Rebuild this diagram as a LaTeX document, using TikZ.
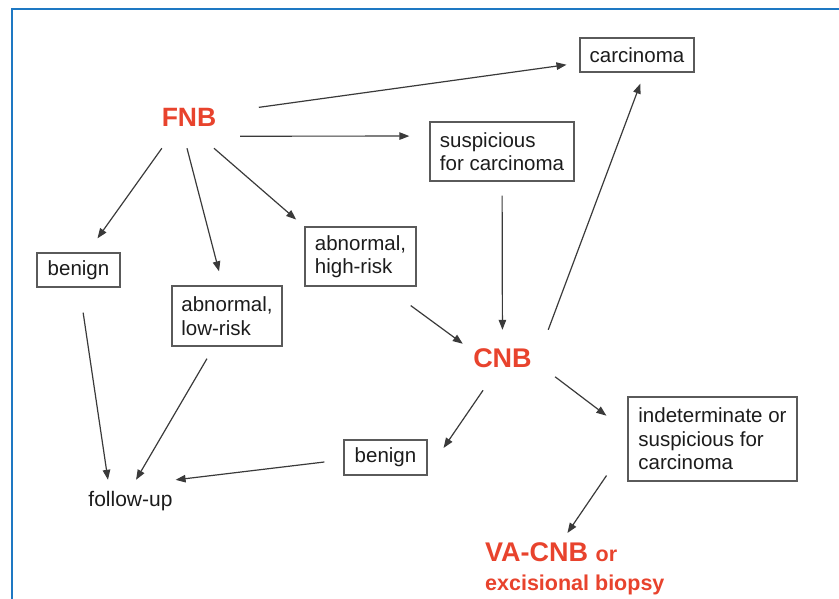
\documentclass[tikz,border=0pt]{standalone}
\usepackage{fontspec}
\setmainfont{Liberation Sans}
\usetikzlibrary{arrows.meta}
\definecolor{fnbred}{HTML}{E8432D}
\definecolor{frameblue}{HTML}{1E78C3}
\definecolor{linegray}{HTML}{3A3A3A}
\definecolor{boxgray}{HTML}{5A5A5A}
\definecolor{txt}{HTML}{1C1C1C}

\tikzset{
  box/.style={draw=boxgray, line width=1.3pt, align=left, inner sep=0pt,
    text=txt, font=\fontsize{20.5}{23.5}\selectfont},
  arr/.style={-{Triangle[length=10pt, width=7.5pt]}, draw=linegray, line width=1.2pt},
  redlbl/.style={text=fnbred, inner sep=0pt, font=\bfseries\fontsize{26.5}{29}\selectfont},
}

\begin{document}
\begin{tikzpicture}[x=1pt, y=-1pt]

\useasboundingbox (0,0) rectangle (839,599);

% Frame
\draw[frameblue, line width=2pt] (11.5,599) -- (11.5,9.5) -- (839,9.5);

% --- Nodes ---
\node[redlbl, minimum width=60pt, minimum height=38pt] (fnb) at (189,117) {FNB};
\node[box, minimum width=114pt, minimum height=34pt] (carc) at (637,55) {carcinoma};
\node[box, minimum width=144pt, minimum height=59pt] (susp) at (502,151.5)
  {suspicious\\for carcinoma};
\node[box, minimum width=83pt, minimum height=34pt] (benA) at (78.5,270) {benign};
\node[box, minimum width=110pt, minimum height=60pt] (lowrisk) at (227,316)
  {abnormal,\\low-risk};
\node[box, minimum width=111pt, minimum height=59pt] (highrisk) at (360.5,256.5)
  {abnormal,\\high-risk};
\node[redlbl, font=\bfseries\fontsize{27}{29}\selectfont,
  minimum width=64pt, minimum height=26pt] (cnb) at (502.5,358.5) {CNB};
\node[box, minimum width=83pt, minimum height=35pt] (benB) at (385.5,457.5) {benign};
\node[box, minimum width=169pt, minimum height=84pt] (indet) at (712.5,439)
  {indeterminate or\\suspicious for\\carcinoma};
\node[text=txt, font=\fontsize{21}{24}\selectfont, inner sep=0pt,
  minimum width=90pt, minimum height=24pt] (follow) at (130.5,501.5) {follow-up};
\node[redlbl, font=\bfseries\fontsize{27}{29}\selectfont, align=left,
  anchor=north west] (vacnb) at (485,542.7)
  {VA-CNB {\fontsize{21.5}{29}\selectfont or}\\{\fontsize{21.5}{29}\selectfont excisional biopsy}};

% --- Arrows from FNB ---
\draw[arr, shorten <=40pt, shorten >=13pt] (fnb) -- (carc);
\draw[arr, shorten <=21pt, shorten >=20pt] (fnb.south east) -- (susp.168);
\draw[arr, shorten <=14.8pt, shorten >=17.2pt] (fnb.-134) -- (benA.63);
\draw[arr, shorten <=12.4pt, shorten >=14.5pt] (fnb.-105) -- (lowrisk.98);
\draw[arr, shorten <=18.4pt, shorten >=10.8pt] (fnb.-60) -- (highrisk.152);

% --- Arrows to and from CNB ---
\draw[arr, shorten <=14pt, shorten >=15.5pt] (susp) -- (cnb);
\draw[arr, shorten <=32pt, shorten >=9.3pt] (highrisk.-51) -- (cnb.164);
\draw[arr, shorten <=38.6pt, shorten >=11.7pt] (cnb.-13) -- (carc.-67);
\draw[arr, shorten <=25.6pt, shorten >=26.3pt] (cnb.-5) -- (indet.175);
\draw[arr, shorten <=22.5pt, shorten >=28.2pt] (cnb.-117) -- (benB.-18);

% --- Arrows to follow-up and biopsy ---
\draw[arr, shorten <=19.1pt, shorten >=79.2pt] (benB.-177) -- (follow.160);
\draw[arr, shorten <=25.3pt, shorten >=9.6pt] (benA.-87) -- (follow.150);
\draw[arr, shorten <=13.9pt, shorten >=11pt] (lowrisk.-113) -- (follow.north);
\draw[arr, shorten <=37pt, shorten >=11.8pt] (indet.-176) -- (vacnb.118);

\end{tikzpicture}
\end{document}
